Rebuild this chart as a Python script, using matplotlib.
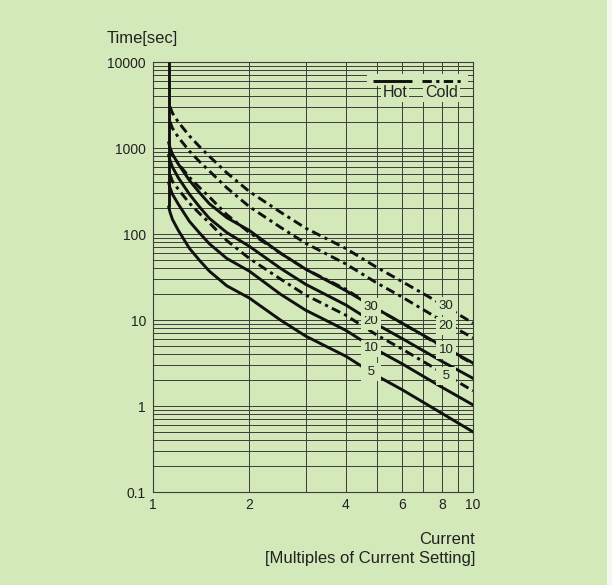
import matplotlib
matplotlib.use("Agg")
import matplotlib.pyplot as plt
from matplotlib.patches import Rectangle
from matplotlib.ticker import FixedLocator, NullFormatter

plt.rcParams['font.family'] = ['Liberation Sans', 'DejaVu Sans']

# 読み取った値（横軸は電流倍率、縦軸は秒）
hot_x = [1.12, 1.13, 1.15, 1.2, 1.3, 1.4, 1.5, 1.7, 2, 2.5, 3, 4, 5, 6, 8, 10]
hot5 = [206, 180, 148, 110, 68, 49, 37, 25, 18, 10, 6.5, 3.8, 2.25, 1.55, 0.82, 0.5]
hot10 = [392, 345, 290, 222, 140, 102, 77, 52, 37, 20, 13, 7.6, 4.5, 3.1, 1.65, 1.03]
hot20 = [820, 720, 600, 450, 290, 205, 152, 104, 72, 40, 26, 15, 8.9, 6.1, 3.3, 2.1]
hot30 = [1150, 1010, 850, 650, 420, 300, 225, 155, 110, 60, 39, 22, 13.5, 9.2, 5.0, 3.16]

cold_x = [1.13, 1.15, 1.2, 1.3, 1.4, 1.5, 1.7, 2, 2.5, 3, 4, 5, 6, 8, 10]
cold5 = [490, 410, 330, 228, 172, 135, 84, 52, 30, 19.5, 11.4, 6.7, 4.6, 2.45, 1.5]
cold10 = [990, 830, 660, 455, 345, 270, 168, 104, 60, 39, 22.8, 13.4, 9.2, 4.9, 3.1]
cold20 = [2020, 1700, 1330, 920, 690, 540, 345, 208, 120, 78, 45, 27, 18.5, 9.8, 6.2]
cold30 = [3020, 2550, 2000, 1380, 1030, 800, 515, 312, 180, 117, 68, 41, 28, 15.2, 9.2]

vertical_top = 10000

curve_names = ['5', '10', '20', '30']
hot_label_x = 4.8
hot_label_y = [2.48, 4.7, 9.7, 14.2]
cold_label_x = 8.23
cold_label_y = [2.23, 4.48, 8.5, 14.6]

x_ticks = [1, 2, 4, 6, 8, 10]
x_minor = [3, 5, 7, 9]
y_ticks = [0.1, 1, 10, 100, 1000, 10000]
y_ticklabels = ['0.1', '1', '10', '100', '1000', '10000']

bg = '#d4e9b9'
ink = '#111111'
txt = '#222222'
grid_c = '#3c3c3c'
cold_dash = (0, (3.2, 1.5, 1.1, 1.5))

fig = plt.figure(figsize=(6.12, 5.85), dpi=100, facecolor=bg)
ax = fig.add_axes([153/612, 1-492/585, 320/612, 430/585])
ax.set_facecolor(bg)
ax.set_xscale('log')
ax.set_yscale('log')
ax.set_xlim(1, 10)
ax.set_ylim(0.1, 10000)

ax.xaxis.set_major_locator(FixedLocator(x_ticks))
ax.xaxis.set_minor_locator(FixedLocator(x_minor))
ax.set_xticklabels([str(v) for v in x_ticks])
ax.xaxis.set_minor_formatter(NullFormatter())
ax.yaxis.set_major_locator(FixedLocator(y_ticks))
ax.set_yticklabels(y_ticklabels)
ax.yaxis.set_minor_formatter(NullFormatter())
ax.tick_params(which='both', length=0, labelsize=10, colors=txt)
ax.tick_params(axis='x', pad=4)
ax.tick_params(axis='y', pad=5)
ax.grid(True, which='both', color=grid_c, lw=0.7)
ax.set_axisbelow(True)
for s in ax.spines.values():
    s.set_color(grid_c)
    s.set_linewidth(0.8)

lw = 2.1
ax.plot([hot_x[0], hot_x[0]], [vertical_top, hot5[0]], color=ink, lw=lw,
        solid_capstyle='butt', zorder=3)
for ys in [hot5, hot10, hot20, hot30]:
    ax.plot(hot_x, ys, color=ink, lw=lw, zorder=3, solid_joinstyle='round')
for ys in [cold5, cold10, cold20, cold30]:
    ax.plot(cold_x, ys, color=ink, lw=lw, ls=cold_dash, zorder=3,
            dash_capstyle='butt')

for name, y in zip(curve_names, hot_label_y):
    s = ' %s ' % name if len(name) == 1 else name
    ax.text(hot_label_x, y, s, ha='center', va='center', fontsize=9.5,
            color=txt, zorder=5,
            bbox=dict(boxstyle='square,pad=0.2', fc=bg, ec='none'))
for name, y in zip(curve_names, cold_label_y):
    s = ' %s ' % name if len(name) == 1 else name
    ax.text(cold_label_x, y, s, ha='center', va='center', fontsize=9.5,
            color=txt, zorder=5,
            bbox=dict(boxstyle='square,pad=0.2', fc=bg, ec='none'))

# 凡例（手書き風）
ax.add_patch(Rectangle((0.67, 0.944), 0.315, 0.028, transform=ax.transAxes,
                       fc=bg, ec='none', zorder=4))
ax.plot([0.687, 0.808], [0.9565, 0.9565], transform=ax.transAxes, color=ink,
        lw=lw, solid_capstyle='butt', zorder=5)
ax.plot([0.842, 0.967], [0.9565, 0.9565], transform=ax.transAxes, color=ink,
        lw=lw, ls=cold_dash, zorder=5)
ax.text(0.756, 0.9295, 'Hot', transform=ax.transAxes, ha='center', va='center',
        fontsize=11.5, color=txt, zorder=5,
        bbox=dict(boxstyle='square,pad=0.12', fc=bg, ec='none'))
ax.text(0.902, 0.9295, 'Cold', transform=ax.transAxes, ha='center', va='center',
        fontsize=11.5, color=txt, zorder=5,
        bbox=dict(boxstyle='square,pad=0.12', fc=bg, ec='none'))

fig.text(107/612, 1-38/585, 'Time[sec]', ha='left', va='center',
         fontsize=12, color=txt)
fig.text(475/612, 1-539/585, 'Current', ha='right', va='center',
         fontsize=12, color=txt)
fig.text(475/612, 1-559/585, '[Multiples of Current Setting]', ha='right',
         va='center', fontsize=12, color=txt)

fig.add_artist(Rectangle((607/612, 0), 5/612, 1, transform=fig.transFigure,
                         fc='#f4f8ee', ec='none'))

fig.savefig('out.png', dpi=100, facecolor=bg)
